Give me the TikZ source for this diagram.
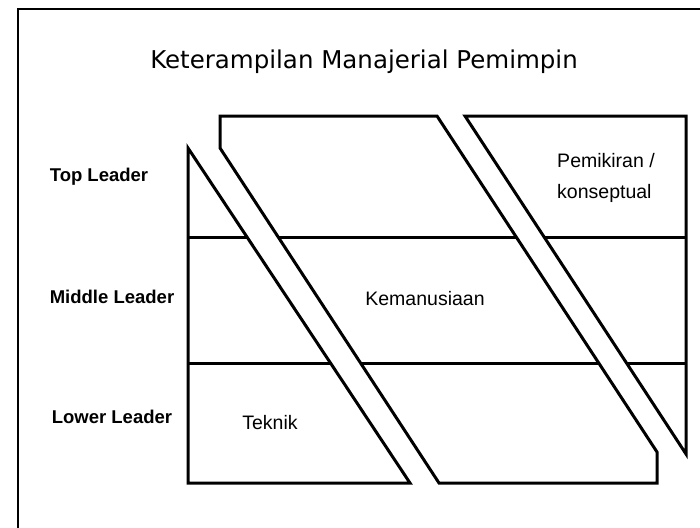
\documentclass[tikz,border=0pt]{standalone}
\usepackage{fontspec}
\setmainfont{Liberation Sans}
\newfontfamily\titlefont{DejaVu Sans}

\begin{document}
\begin{tikzpicture}[x=1pt, y=-1pt, line width=3pt, line join=miter,
  lvl/.style={anchor=west, font=\fontsize{18.5}{22}\selectfont\bfseries},
  area/.style={font=\fontsize{19.5}{31}\selectfont, align=left}]
  \clip (0,0) rectangle (700,527);
  % outer frame (only left and top edge are visible)
  \draw[line width=2.2pt] (18,560) -- (18,9) -- (720,9);
  \node[font=\titlefont\fontsize{24.5}{28}\selectfont] (title) at (364,62) {Keterampilan Manajerial Pemimpin};

  % corners of the three areas
  \coordinate (T1) at (188,148); \coordinate (T2) at (410,483); \coordinate (T3) at (188,483);
  \coordinate (K1) at (220,116); \coordinate (K2) at (437,116); \coordinate (K3) at (657,452);
  \coordinate (K4) at (657,483); \coordinate (K5) at (439,483); \coordinate (K6) at (220,148);
  \coordinate (P1) at (465,116); \coordinate (P2) at (686,116); \coordinate (P3) at (686,454);

  \draw (T1) -- (T2) -- (T3) -- cycle;
  \draw (K1) -- (K2) -- (K3) -- (K4) -- (K5) -- (K6) -- cycle;
  \draw (P1) -- (P2) -- (P3) -- cycle;

  % level lines, cut at the gaps
  \draw (188,237) -- (247,237);   \draw (278.2,237) -- (516.2,237); \draw (544.1,237) -- (686,237);
  \draw (188,363) -- (330.5,363); \draw (360.5,363) -- (598.7,363); \draw (626.5,363) -- (686,363);

  \node[lvl] (top) at (45,177) {Top Leader};
  \node[lvl] (mid) at (45,297) {Middle Leader};
  \node[lvl] (low) at (47,417) {Lower Leader};

  \node[area] (tek) at (270,423) {Teknik};
  \node[area] (kem) at (425,299) {Kemanusiaan};
  \node[area] (pem) at (606,178) {Pemikiran /\\konseptual};
\end{tikzpicture}
\end{document}
